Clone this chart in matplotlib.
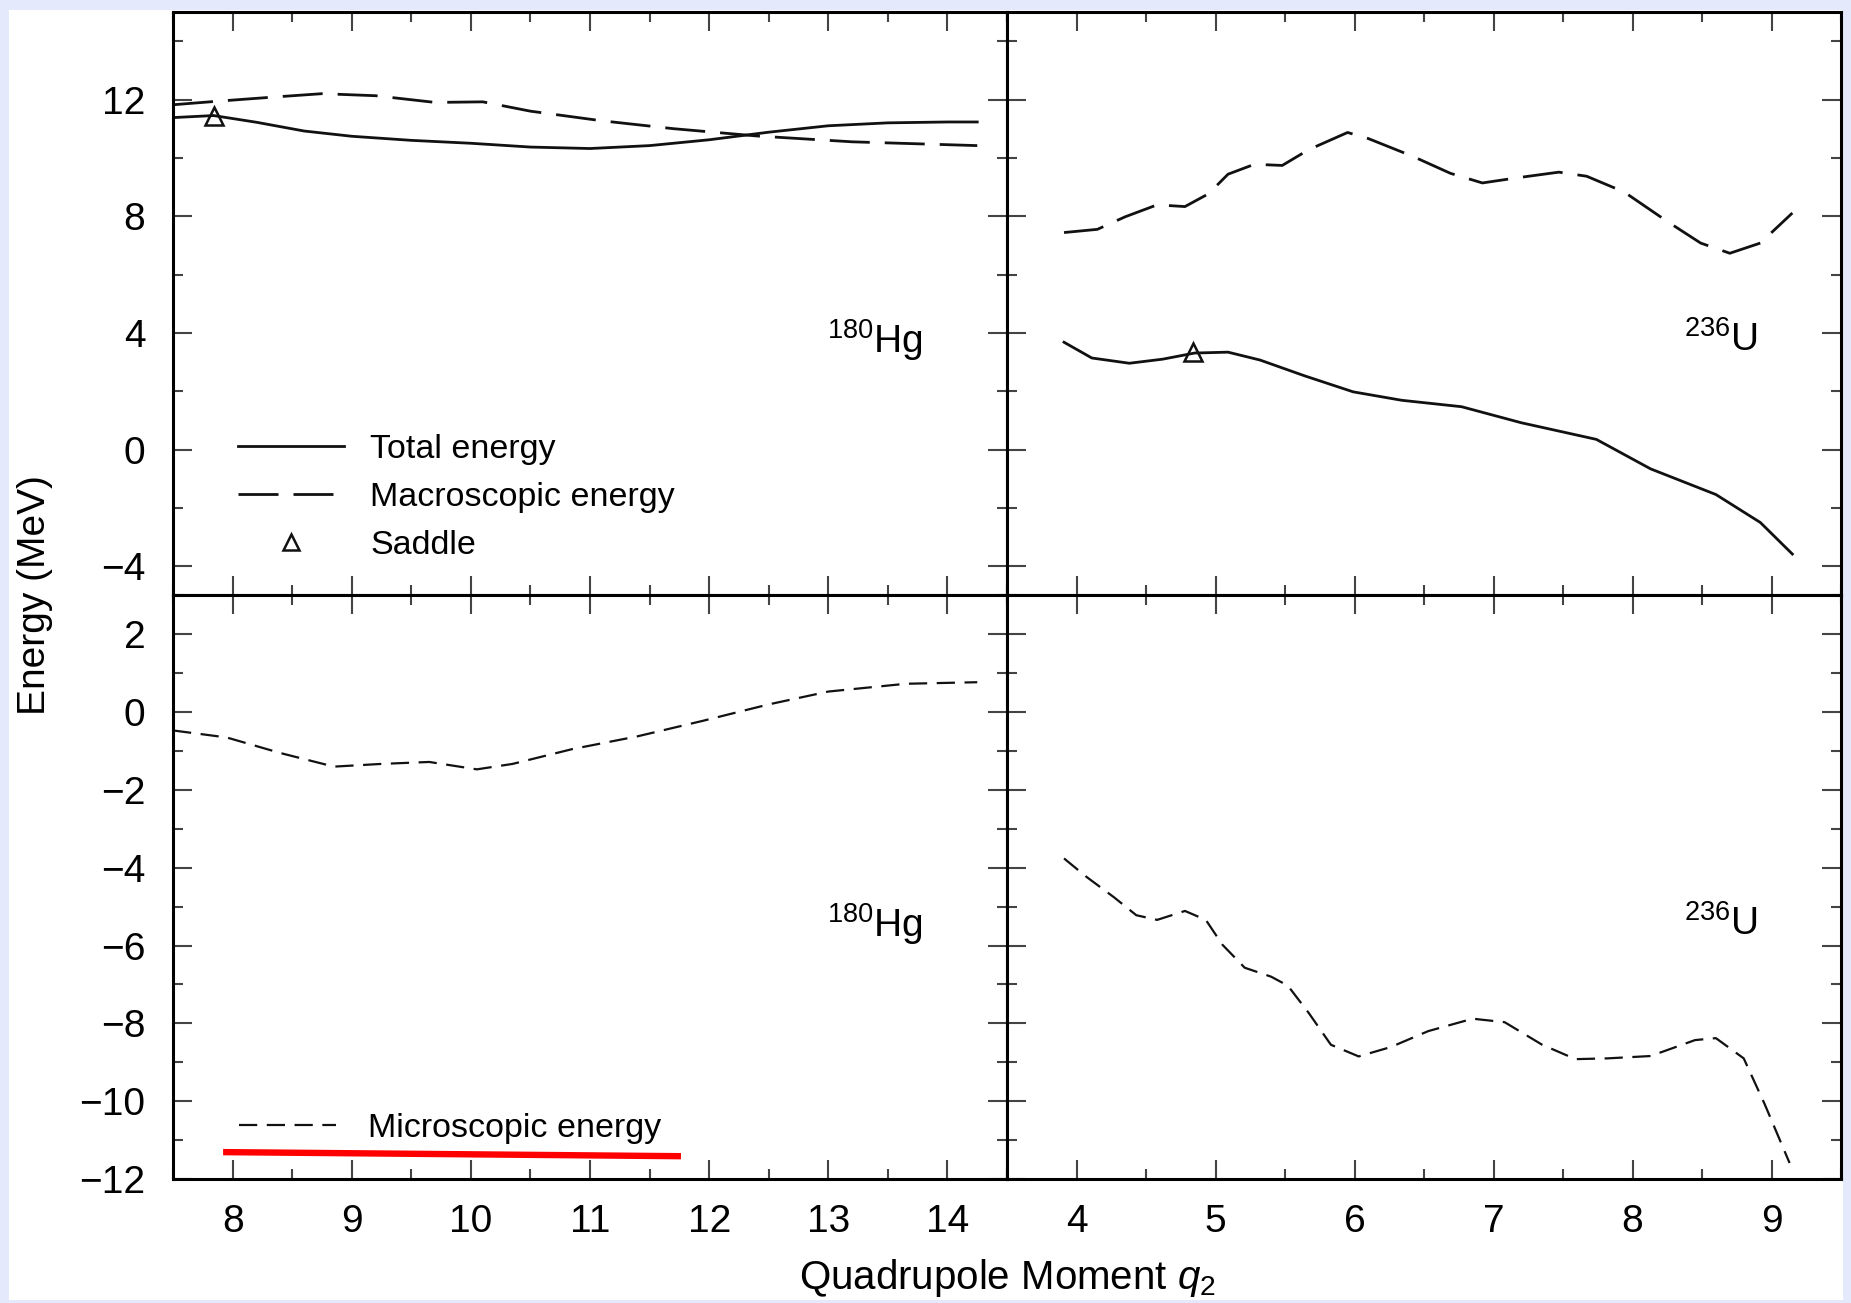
import matplotlib.pyplot as plt
from matplotlib.patches import Rectangle
from matplotlib.lines import Line2D
from matplotlib.ticker import MultipleLocator

plt.rcParams['font.family'] = ['Liberation Sans', 'DejaVu Sans']
plt.rcParams['mathtext.fontset'] = 'custom'
plt.rcParams['mathtext.rm'] = 'Liberation Sans'
plt.rcParams['mathtext.it'] = 'Liberation Sans:italic'

# 180Hg energies (MeV) vs quadrupole moment
hg_q_total = [7.5, 7.84, 8.2, 8.6, 9.0, 9.5, 10.0, 10.5, 11.0, 11.5, 12.0, 12.5, 13.0, 13.5, 14.0, 14.25]
hg_total = [11.38, 11.45, 11.22, 10.92, 10.74, 10.6, 10.5, 10.37, 10.32, 10.42, 10.62, 10.88, 11.1, 11.2, 11.23, 11.23]
hg_q_macro = [7.5, 7.9, 8.4, 8.75, 9.2, 9.7, 10.1, 10.5, 11.1, 11.7, 12.4, 13.2, 14.25]
hg_macro = [11.82, 11.95, 12.1, 12.2, 12.13, 11.9, 11.92, 11.6, 11.27, 11.0, 10.75, 10.55, 10.42]
hg_q_micro = [7.5, 7.95, 8.4, 8.85, 9.25, 9.65, 10.05, 10.35, 10.85, 11.4, 11.95, 12.5, 13.0, 13.65, 14.25]
hg_micro = [-0.47, -0.65, -1.05, -1.4, -1.33, -1.28, -1.47, -1.33, -0.95, -0.62, -0.22, 0.2, 0.53, 0.73, 0.77]

# 236U energies (MeV) vs quadrupole moment
u_q_total = [3.91, 4.11, 4.38, 4.62, 4.85, 5.09, 5.32, 5.64, 5.99, 6.34, 6.77, 7.2, 7.74, 8.13, 8.6, 8.92, 9.15]
u_total = [3.68, 3.14, 2.96, 3.1, 3.31, 3.34, 3.07, 2.53, 1.98, 1.69, 1.47, 0.92, 0.35, -0.66, -1.54, -2.5, -3.58]
u_q_macro = [3.91, 4.15, 4.35, 4.58, 4.78, 4.95, 5.09, 5.28, 5.48, 5.67, 5.95, 6.1, 6.42, 6.69, 6.92,
             7.16, 7.47, 7.67, 7.94, 8.25, 8.49, 8.7, 8.92, 9.15]
u_macro = [7.44, 7.55, 7.98, 8.39, 8.33, 8.77, 9.44, 9.78, 9.74, 10.28, 10.87, 10.66, 10.05, 9.47, 9.14,
           9.31, 9.51, 9.37, 8.83, 7.82, 7.08, 6.73, 7.08, 8.11]
u_q_micro = [3.91, 4.07, 4.27, 4.43, 4.58, 4.78, 4.93, 5.05, 5.21, 5.4, 5.52, 5.67, 5.83, 6.03, 6.26,
             6.53, 6.85, 7.08, 7.35, 7.59, 7.82, 8.13, 8.45, 8.6, 8.8, 8.95, 9.13]
u_micro = [-3.76, -4.23, -4.76, -5.22, -5.34, -5.11, -5.34, -5.98, -6.57, -6.8, -7.03, -7.73, -8.55, -8.85, -8.61,
           -8.2, -7.88, -7.97, -8.55, -8.92, -8.9, -8.84, -8.43, -8.38, -8.9, -10.07, -11.59]

# saddle points on the total-energy curves
hg_saddle = (7.84, 11.45)
u_saddle = (4.84, 3.34)

LONG_DASH = (0, (14.4, 5.4))
SHORT_DASH = (0, (8.2, 4.3))
TICK_COLOR = '#444444'

fig = plt.figure(figsize=(18.51, 13.03), dpi=100, facecolor='#e4e9fb')
fig.add_artist(Rectangle((0.0049, 0.0023), 0.9908, 0.99, transform=fig.transFigure,
                         facecolor='white', edgecolor='none', zorder=-1))

gs = fig.add_gridspec(2, 2, left=0.0935, right=0.9946, top=0.9908, bottom=0.0952,
                      hspace=0, wspace=0)
ax_hg_top = fig.add_subplot(gs[0, 0])
ax_u_top = fig.add_subplot(gs[0, 1])
ax_hg_bot = fig.add_subplot(gs[1, 0], sharex=ax_hg_top)
ax_u_bot = fig.add_subplot(gs[1, 1], sharex=ax_u_top)

# curves
ax_hg_top.plot(hg_q_total, hg_total, color='#111111', lw=2.0)
ax_hg_top.plot(hg_q_macro, hg_macro, color='#111111', lw=2.0, linestyle=LONG_DASH)
ax_hg_top.plot(*hg_saddle, linestyle='none', marker='^', ms=13, mfc='none', mec='#111111', mew=1.8)

ax_u_top.plot(u_q_total, u_total, color='#111111', lw=2.0)
ax_u_top.plot(u_q_macro, u_macro, color='#111111', lw=2.0, linestyle=LONG_DASH)
ax_u_top.plot(*u_saddle, linestyle='none', marker='^', ms=13, mfc='none', mec='#111111', mew=1.8)

ax_hg_bot.plot(hg_q_micro, hg_micro, color='#111111', lw=1.6, linestyle=SHORT_DASH)
ax_u_bot.plot(u_q_micro, u_micro, color='#111111', lw=1.6, linestyle=SHORT_DASH)

# limits and ticks
for ax in (ax_hg_top, ax_hg_bot):
    ax.set_xlim(7.5, 14.5)
    ax.xaxis.set_major_locator(MultipleLocator(1))
    ax.xaxis.set_minor_locator(MultipleLocator(0.5))
for ax in (ax_u_top, ax_u_bot):
    ax.set_xlim(3.5, 9.5)
    ax.xaxis.set_major_locator(MultipleLocator(1))
    ax.xaxis.set_minor_locator(MultipleLocator(0.5))
for ax in (ax_hg_top, ax_u_top):
    ax.set_ylim(-5, 15)
    ax.yaxis.set_major_locator(MultipleLocator(4))
    ax.yaxis.set_minor_locator(MultipleLocator(2))
for ax in (ax_hg_bot, ax_u_bot):
    ax.set_ylim(-12, 3)
    ax.yaxis.set_major_locator(MultipleLocator(2))
    ax.yaxis.set_minor_locator(MultipleLocator(1))

for ax in (ax_hg_top, ax_u_top, ax_hg_bot, ax_u_bot):
    ax.tick_params(which='both', direction='in', top=True, right=True, color=TICK_COLOR,
                   width=1.5, labelsize=28, labelcolor='black')
    ax.tick_params(which='major', length=13.7)
    ax.tick_params(which='minor', length=7)
    ax.tick_params(axis='y', pad=20)
    ax.tick_params(axis='x', pad=18)
    for sp in ax.spines.values():
        sp.set_linewidth(2.2)
        sp.set_color('black')

ax_hg_top.tick_params(labelbottom=False)
ax_u_top.tick_params(labelbottom=False, labelleft=False)
ax_u_bot.tick_params(labelleft=False)

# nucleus labels
for ax in (ax_hg_top, ax_hg_bot):
    ax.text(0.899, 0.437, r'$^{180}$Hg', transform=ax.transAxes, ha='right', va='center', fontsize=28)
for ax in (ax_u_top, ax_u_bot):
    ax.text(0.900, 0.437, r'$^{236}$U', transform=ax.transAxes, ha='right', va='center', fontsize=28)

# legends
top_handles = [
    Line2D([], [], color='#111111', lw=2.0),
    Line2D([], [], color='#111111', lw=2.0, linestyle=LONG_DASH),
    Line2D([], [], linestyle='none', marker='^', ms=11, mfc='none', mec='#111111', mew=1.8),
]
ax_hg_top.legend(top_handles, ['Total energy', 'Macroscopic energy', 'Saddle'],
                 loc='center left', bbox_to_anchor=(0.078, 0.168), frameon=False,
                 fontsize=24.5, handlelength=3.1, handletextpad=0.78, labelspacing=0.5,
                 borderpad=0, borderaxespad=0, numpoints=1)
ax_hg_bot.legend([Line2D([], [], color='#111111', lw=1.6, linestyle=SHORT_DASH)],
                 ['Microscopic energy'],
                 loc='center left', bbox_to_anchor=(0.079, 0.087), frameon=False,
                 fontsize=24.5, handlelength=2.85, handletextpad=0.95,
                 borderpad=0, borderaxespad=0)

# underline below the microscopic-energy entry
ax_hg_bot.plot([0.06, 0.609], [0.046, 0.039], transform=ax_hg_bot.transAxes,
               color='#ff0000', lw=4.6, solid_capstyle='butt', clip_on=False)

# axis titles
fig.text(0.0189, 0.5434, 'Energy (MeV)', rotation=90, ha='center', va='center', fontsize=28)
fig.text(0.544, 0.0105, r'Quadrupole Moment $q_2$', ha='center', va='baseline', fontsize=29)

fig.savefig('out.png', dpi=100, facecolor=fig.get_facecolor())
